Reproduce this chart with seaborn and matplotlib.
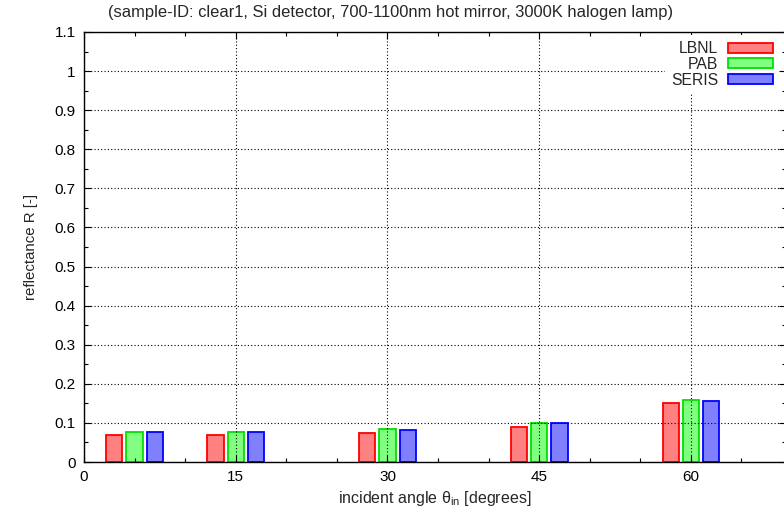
import pandas as pd
import seaborn as sns
import matplotlib
matplotlib.use("Agg")
import matplotlib.pyplot as plt
import matplotlib.ticker as mtick
from matplotlib.patches import Patch

# data
angles = [5, 15, 30, 45, 60]
labs = ["LBNL", "PAB", "SERIS"]
r_lbnl = [0.070, 0.070, 0.075, 0.089, 0.150]
r_pab = [0.077, 0.078, 0.084, 0.100, 0.159]
r_seris = [0.077, 0.077, 0.081, 0.0995, 0.155]

fills = {"LBNL": "#ff8080", "PAB": "#80ff80", "SERIS": "#8080ff"}
edges = {"LBNL": "#ff0000", "PAB": "#00e000", "SERIS": "#0000ff"}

df = pd.DataFrame({
    "angle": angles * 3,
    "R": r_lbnl + r_pab + r_seris,
    "lab": [l for l in labs for _ in angles],
})

sns.set_style("ticks")
plt.rcParams["font.family"] = ["Liberation Sans", "DejaVu Sans"]
plt.rcParams["mathtext.fontset"] = "custom"
plt.rcParams["mathtext.rm"] = "Liberation Sans"
plt.rcParams["mathtext.it"] = "Liberation Sans"

fig = plt.figure(figsize=(7.84, 5.17), dpi=100)
ax = fig.add_axes([84 / 784, 55 / 517, 702 / 784, 430 / 517])

sns.barplot(data=df, x="angle", y="R", hue="lab", native_scale=True,
            width=0.6, gap=0.2, palette=fills, ax=ax, legend=False,
            linewidth=1.3)

# gnuplot style: light fill, saturated border
for cont, lab in zip(ax.containers, labs):
    for p in cont:
        p.set_edgecolor(edges[lab])
        p.set_facecolor(fills[lab])

ax.set_xlim(0, 69.4)
ax.set_ylim(0, 1.1)
ax.xaxis.set_major_locator(mtick.MultipleLocator(15))
ax.xaxis.set_minor_locator(mtick.MultipleLocator(5))
ax.yaxis.set_major_locator(mtick.MultipleLocator(0.1))
ax.yaxis.set_minor_locator(mtick.MultipleLocator(0.05))
ax.yaxis.set_major_formatter(mtick.FuncFormatter(lambda v, p: f"{v:g}"))
ax.tick_params(which="both", direction="in", top=True, right=True,
               labelsize=11, colors="black", pad=6)
ax.tick_params(which="major", length=5, width=0.8)
ax.tick_params(which="minor", length=3, width=0.8)
ax.grid(True, which="major", linestyle=(0, (1, 2)), color="black", linewidth=0.8)
ax.set_axisbelow(False)
for s in ax.spines.values():
    s.set_linewidth(1.0)
    s.set_color("black")

ax.set_xlabel("incident angle θ$_{\\rm in}$ [degrees]", fontsize=11.5, labelpad=3)
ax.set_ylabel("reflectance R [-]", fontsize=10.8, labelpad=12)
fig.text(390 / 784, 1 - 12 / 517,
         "(sample-ID: clear1, Si detector, 700-1100nm hot mirror, 3000K halogen lamp)",
         fontsize=11.9, ha="center", va="center")

# legend box is blanked (white, no border) like gnuplot's key
handles = [Patch(facecolor=fills[l], edgecolor=edges[l], linewidth=1.3, label=l) for l in labs]
leg = ax.legend(handles=handles, loc="upper right", bbox_to_anchor=(0.9905, 0.9935),
                frameon=True, fancybox=False, framealpha=1, facecolor="white",
                edgecolor="none", markerfirst=False, fontsize=11.3,
                handlelength=2.9, handleheight=0.6, labelspacing=0.05,
                handletextpad=0.6, borderaxespad=0, borderpad=0.4)
leg.set_zorder(5)

fig.savefig("out.png", dpi=100)
